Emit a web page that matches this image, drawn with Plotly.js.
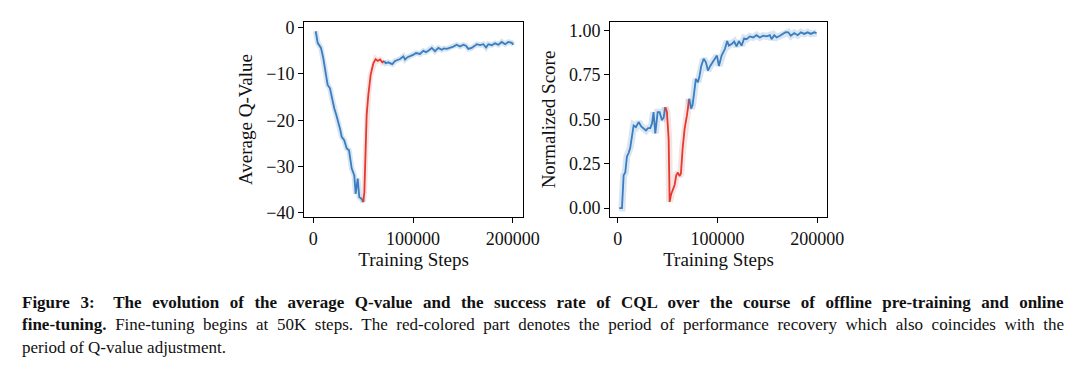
<!DOCTYPE html>
<html>
<head>
<meta charset="utf-8">
<script src="https://cdn.plot.ly/plotly-3.0.1.min.js"></script>
<style>html,body{margin:0;padding:0;background:#fff;} #chart{width:1080px;height:375px;}</style>
</head>
<body>
<div id="chart"></div>
<script>
// ---- Data ----
// Left panel: Average Q-Value vs training steps
const qSteps = [2400, 4400, 7700, 10000, 12200, 14400, 16700, 19000, 21000, 23000, 25000, 27000, 28500, 31000, 33500, 35800, 37200, 38500, 41100, 42500, 44500, 46100, 48500, 50100,
  51200, 52500, 53500, 55200, 57500, 60200, 62500, 64600, 66900, 69200, 71200,
  72600, 75000, 77000, 79200, 82000, 84500, 87000, 90300, 92000, 94500, 97000, 100000, 103000, 107000, 110300, 113000, 115300, 118800, 122000, 125400, 128800, 131000, 133800, 137100, 140400, 143800, 147100, 150500, 153000, 155500, 158800, 161500, 163900, 167200, 170500, 173200, 175500, 178900, 182200, 185600, 189000, 192300, 195600, 199000, 200600];
const qValues = [-0.8, -3.3, -4.4, -6.6, -9.5, -12.4, -13.1, -15.5, -17.4, -18.8, -20.3, -22.0, -23.6, -24.3, -26.1, -26.5, -28.5, -30.4, -31.9, -35.9, -32.6, -36.6, -37.0, -37.7,
  -35.5, -26.1, -18.9, -14.5, -10.2, -7.7, -6.8, -7.2, -6.9, -7.5, -7.2,
  -7.7, -7.5, -7.7, -7.9, -7.2, -7.0, -6.8, -6.2, -6.9, -6.4, -6.2, -5.9, -5.5, -5.7, -5.0, -5.3, -5.0, -4.4, -5.1, -4.4, -4.8, -4.5, -4.6, -4.4, -4.1, -3.7, -4.1, -3.7, -3.9, -4.6, -4.4, -4.0, -3.6, -3.8, -3.6, -4.3, -3.6, -3.8, -3.4, -3.7, -3.1, -3.6, -3.1, -3.3, -3.7];
const qRecovery = [50100, 71200];   // red-coloured period (start, end steps)

// Right panel: Normalized Score vs training steps
const sSteps = [1600, 4300, 6000, 7600, 9300, 11000, 12600, 14300, 16000, 18300, 21000, 23600, 26000, 28400, 30400, 32700, 34400, 36000, 37700, 40100, 42100, 44400, 46100, 47700,
  49400, 51100, 52100, 53700, 55400, 57100, 58700, 60400, 62100, 63400, 65100, 67100, 69400, 71700,
  73700, 75100, 77100, 78400, 80400, 81800, 83800, 86200, 88500, 90500, 92800, 96200, 99500, 101500, 104200, 107500, 109800, 111500, 114200, 116800, 119200, 121500, 124200, 126800, 129200, 132500, 135800, 139200, 142500, 145900, 149300, 152600, 154300, 156900, 159300, 162600, 165900, 168300, 171000, 173600, 177000, 180400, 183700, 187000, 190400, 193700, 197000, 199400];
const sValues = [0.0, 0.0, 0.185, 0.20, 0.29, 0.31, 0.34, 0.40, 0.465, 0.456, 0.484, 0.46, 0.45, 0.437, 0.45, 0.45, 0.475, 0.54, 0.42, 0.54, 0.54, 0.495, 0.51, 0.568,
  0.54, 0.39, 0.035, 0.08, 0.11, 0.13, 0.185, 0.20, 0.18, 0.195, 0.334, 0.446, 0.52, 0.615,
  0.56, 0.58, 0.69, 0.727, 0.708, 0.736, 0.80, 0.84, 0.82, 0.774, 0.80, 0.83, 0.858, 0.80, 0.858, 0.895, 0.94, 0.914, 0.923, 0.937, 0.91, 0.94, 0.914, 0.955, 0.95, 0.966, 0.96, 0.973, 0.96, 0.97, 0.966, 0.973, 0.95, 0.973, 0.96, 0.97, 0.98, 0.99, 0.989, 0.97, 0.985, 0.973, 0.989, 0.98, 0.989, 0.98, 0.989, 0.985];
const sRecovery = [47700, 71700];

const xTickVals = [0, 100000, 200000];
const xTickText = ['0', '100000', '200000'];
const qTickVals = [0, -10, -20, -30, -40];
const qTickText = ['0', '\u221210', '\u221220', '\u221230', '\u221240'];
const sTickVals = [0, 0.25, 0.5, 0.75, 1.0];
const sTickText = ['0.00', '0.25', '0.50', '0.75', '1.00'];

const xTitle = 'Training Steps';
const qTitle = 'Average Q-Value';
const sTitle = 'Normalized Score';

const captionLines = [
  '<b>Figure 3:\u2002 The evolution of the average Q-value and the success rate of CQL over the course of offline pre-training and online</b>',
  '<b>fine-tuning.</b> Fine-tuning begins at 50K steps. The red-colored part denotes the period of performance recovery which also coincides with the',
  'period of Q-value adjustment.'
];
const captionJustify = [true, true, false];

// ---- Build traces ----
const BLUE = '#3a7dc0', RED = '#e8382d', BAND = 'rgba(59,125,191,0.2)', RBAND = 'rgba(200,120,120,0.2)';
function segments(xs, ys, rec) {
  const pre = {x: [], y: []}, mid = {x: [], y: []}, post = {x: [], y: []};
  xs.forEach((x, i) => {
    if (x <= rec[0]) pre.x.push(x), pre.y.push(ys[i]);
    if (x >= rec[0] && x <= rec[1]) mid.x.push(x), mid.y.push(ys[i]);
    if (x >= rec[1]) post.x.push(x), post.y.push(ys[i]);
  });
  return [pre, mid, post];
}
function mk(seg, xa, ya, color, width) {
  return {x: seg.x, y: seg.y, xaxis: xa, yaxis: ya, type: 'scatter', mode: 'lines',
    line: {color: color, width: width, shape: 'linear'}, hoverinfo: 'skip', showlegend: false};
}
const traces = [];
const [qa, qb, qc] = segments(qSteps, qValues, qRecovery);
const [sa, sb, sc] = segments(sSteps, sValues, sRecovery);
// soft bands (drawn as wide translucent strokes)
[[qa, BAND], [qb, RBAND], [qc, BAND]].forEach(([s, c]) => traces.push(mk(s, 'x', 'y', c, 5.5)));
[[sa, BAND], [sb, RBAND], [sc, BAND]].forEach(([s, c]) => traces.push(mk(s, 'x2', 'y2', c, 7)));
traces.push(mk(qa, 'x', 'y', BLUE, 1.8), mk(qb, 'x', 'y', RED, 1.8), mk(qc, 'x', 'y', BLUE, 1.8));
traces.push(mk(sa, 'x2', 'y2', BLUE, 1.8), mk(sb, 'x2', 'y2', RED, 1.8), mk(sc, 'x2', 'y2', BLUE, 1.8));

const FONT = 'Liberation Serif, DejaVu Serif, serif';
const TICK = 18, TITLE = 19;
const axCommon = {showline: true, linecolor: '#000', linewidth: 1, mirror: true, ticks: 'outside',
  ticklen: 5, tickwidth: 1, tickcolor: '#000', showgrid: false, zeroline: false, tickmode: 'array',
  tickfont: {family: FONT, size: TICK, color: '#111'}, fixedrange: true};

const layout = {
  width: 1080, height: 375, margin: {l: 0, r: 0, t: 0, b: 0},
  paper_bgcolor: '#fff', plot_bgcolor: '#fff', showlegend: false,
  font: {family: FONT, color: '#111'},
  xaxis: Object.assign({}, axCommon, {domain: [0.2815, 0.4843], range: [-9300, 210300], anchor: 'y',
    tickvals: xTickVals, ticktext: xTickText, title: {text: xTitle, font: {family: FONT, size: TITLE}, standoff: 4}}),
  yaxis: Object.assign({}, axCommon, {domain: [0.4213, 0.9413], range: [-40.9, 1.2], anchor: 'x',
    tickvals: qTickVals, ticktext: qTickText, title: {text: qTitle, font: {family: FONT, size: TITLE}, standoff: 8}}),
  xaxis2: Object.assign({}, axCommon, {domain: [0.5648, 0.7657], range: [-7700, 209800], anchor: 'y2',
    tickvals: xTickVals, ticktext: xTickText, title: {text: xTitle, font: {family: FONT, size: TITLE}, standoff: 4}}),
  yaxis2: Object.assign({}, axCommon, {domain: [0.4213, 0.9413], range: [-0.05, 1.047], anchor: 'x2',
    tickvals: sTickVals, ticktext: sTickText, title: {text: sTitle, font: {family: FONT, size: TITLE}, standoff: 8}}),
  annotations: captionLines.map((t, i) => ({
    text: t, xref: 'paper', yref: 'paper', x: 20 / 1080, y: 1 - (302 + i * 22.5) / 375,
    xanchor: 'left', yanchor: 'middle', showarrow: false, align: 'left',
    font: {family: FONT, size: 17, color: '#111'}
  }))
};

Plotly.newPlot('chart', traces, layout, {displayModeBar: false, staticPlot: true}).then(() => {
  // justify the caption lines like the typeset reference (styling only)
  const texts = document.querySelectorAll('#chart .annotation-text');
  texts.forEach((el, i) => {
    if (!captionJustify[i]) return;
    const w = el.getBBox().width;
    const spaces = (el.textContent.match(/ /g) || []).length;
    const target = 1062 - 20;
    if (spaces > 0 && w < target) el.style.wordSpacing = ((target - w) / spaces) + 'px';
  });
});
</script>
</body>
</html>
